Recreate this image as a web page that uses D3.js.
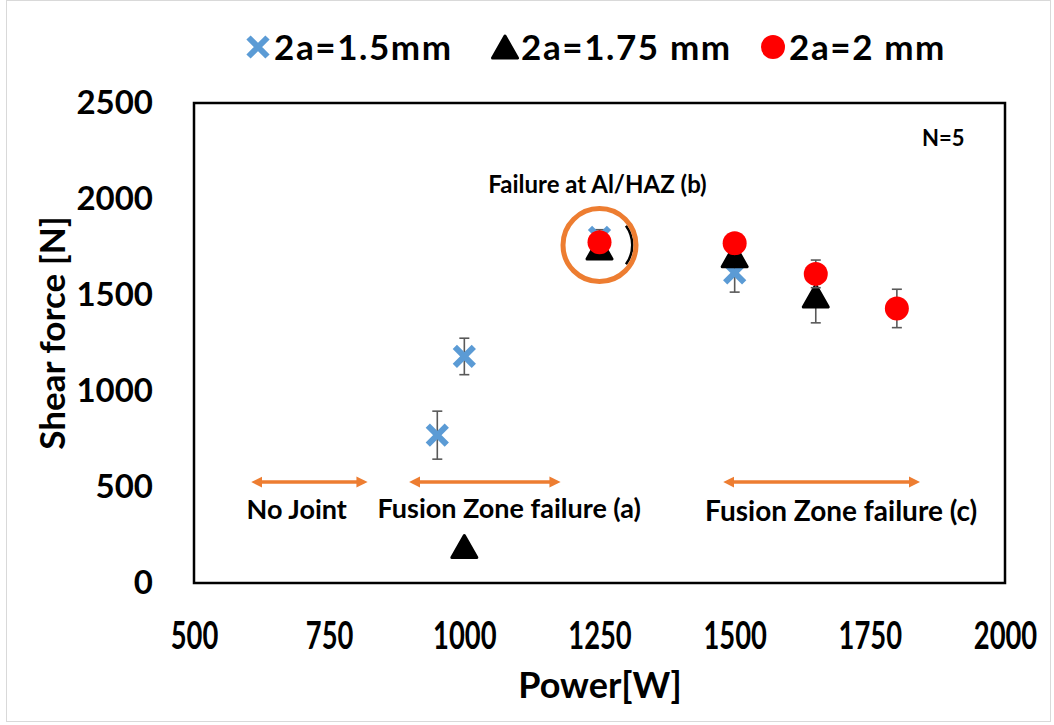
<!DOCTYPE html>
<html>
<head>
<meta charset="utf-8">
<script src="https://cdn.jsdelivr.net/npm/d3@7"></script>
<style>
  body { margin: 0; background: #fff; }
  text { font-family: Lato, "Open Sans", sans-serif; font-weight: bold; fill: #000; }
</style>
</head>
<body>
<div id="chart"></div>
<script>
// data
var series_names = ["2a=1.5mm", "2a=1.75 mm", "2a=2 mm"];
var power_15 = [950, 1000, 1250, 1500];
var force_15 = [770, 1180, 1800, 1615];
var err_15 = [125, 95, 40, 100];
var power_175 = [1000, 1250, 1500, 1650];
var force_175 = [190, 1745, 1705, 1495];
var err_175 = [20, 40, 40, 140];
var power_2 = [1250, 1500, 1650, 1800];
var force_2 = [1775, 1770, 1610, 1430];
var err_2 = [30, 30, 72, 100];
var x_ticks = [500, 750, 1000, 1250, 1500, 1750, 2000];
var y_ticks = [0, 500, 1000, 1500, 2000, 2500];
// failure-mode bands [from, to] in W and their labels
var band_labels = ["No Joint", "Fusion Zone failure (a)", "Fusion Zone failure (c)"];
var band_from = [607, 899, 1480];
var band_to = [820, 1177, 1842];

var width = 1054, height = 725;
var margin = {top: 103, right: 49, bottom: 142, left: 194};

var svg = d3.select("#chart").append("svg")
    .attr("width", width)
    .attr("height", height);

svg.append("defs").append("marker")
    .attr("id", "head")
    .attr("viewBox", "0 0 10 10")
    .attr("refX", 5).attr("refY", 5)
    .attr("markerWidth", 3.2).attr("markerHeight", 3.2)
    .attr("orient", "auto-start-reverse")
    .append("path")
        .attr("d", "M0,0 L10,5 L0,10 z")
        .attr("fill", "#ED7D31");

// outer chart border
svg.append("rect")
    .attr("x", 6.5).attr("y", 0.5)
    .attr("width", width - 10).attr("height", height - 4)
    .attr("fill", "none").attr("stroke", "#d9d9d9");

var x = d3.scaleLinear().domain([500, 2000]).range([margin.left, width - margin.right]);
var y = d3.scaleLinear().domain([0, 2500]).range([height - margin.bottom, margin.top]);

// plot frame
svg.append("rect")
    .attr("x", x(500)).attr("y", y(2500))
    .attr("width", x(2000) - x(500)).attr("height", y(0) - y(2500))
    .attr("fill", "none").attr("stroke", "#000").attr("stroke-width", 2.5);

// axes
var xAxis = svg.append("g")
    .attr("transform", "translate(0," + (y(0) + 32) + ")")
    .call(d3.axisBottom(x).tickValues(x_ticks).tickSize(0).tickFormat(d3.format("d")));
xAxis.select(".domain").remove();
xAxis.selectAll("text")
    .attr("dy", "0.71em")
    .attr("y", 7)
    .style("font-size", "38px")
    .style("font-family", "Lato, sans-serif")
    .attr("transform", "scale(0.72,1)");

var yAxis = svg.append("g")
    .attr("transform", "translate(" + (x(500) - 38) + ",0)")
    .call(d3.axisLeft(y).tickValues(y_ticks).tickSize(0).tickFormat(d3.format("d")));
yAxis.select(".domain").remove();
yAxis.selectAll("text")
    .style("font-size", "33px")
    .style("font-family", "Lato, sans-serif");

svg.append("text")
    .attr("x", 600).attr("y", 698)
    .attr("text-anchor", "middle")
    .style("font-size", "36px")
    .text("Power[W]");

svg.append("text")
    .attr("transform", "translate(65,333) rotate(-90)")
    .attr("text-anchor", "middle")
    .style("font-size", "35px")
    .text("Shear force [N]");

// annotations
svg.append("text")
    .attr("x", x(1925)).attr("y", y(2275))
    .attr("text-anchor", "end")
    .style("font-size", "22px")
    .text("N=5");

svg.append("text")
    .attr("x", x(1250) - 2).attr("y", y(2030))
    .attr("text-anchor", "middle")
    .style("font-size", "24px")
    .text("Failure at Al/HAZ (b)");

band_labels.forEach(function(lab, i) {
    svg.append("line")
        .attr("x1", x(band_from[i]) + 5).attr("x2", x(band_to[i]) - 5)
        .attr("y1", y(526)).attr("y2", y(526))
        .attr("stroke", "#ED7D31").attr("stroke-width", 3.5)
        .attr("marker-start", "url(#head)")
        .attr("marker-end", "url(#head)");
});
var label_x = [690, 1083, 1697];
var label_y = [335, 340, 325];
band_labels.forEach(function(lab, i) {
    svg.append("text")
        .attr("x", x(label_x[i])).attr("y", y(label_y[i]))
        .attr("text-anchor", "middle")
        .style("font-size", i == 2 ? "28px" : "27px")
        .text(lab);
});

// ring around the (b) points
var ring = {cx: x(1250), cy: y(1760)};
svg.append("path")
    .attr("d", d3.arc()({innerRadius: 31.5, outerRadius: 34, startAngle: Math.PI * 0.3, endAngle: Math.PI * 0.7}))
    .attr("transform", "translate(" + ring.cx + "," + ring.cy + ")")
    .attr("fill", "#000");

// error bars + markers
function error_bars(px, py, pe) {
    var g = svg.append("g").attr("stroke", "#595959").attr("stroke-width", 1.6);
    px.forEach(function(p, i) {
        var cx = x(p), y1 = y(py[i] - pe[i]), y2 = y(py[i] + pe[i]);
        g.append("line").attr("x1", cx).attr("x2", cx).attr("y1", y1).attr("y2", y2);
        g.append("line").attr("x1", cx - 5).attr("x2", cx + 5).attr("y1", y1).attr("y2", y1);
        g.append("line").attr("x1", cx - 5).attr("x2", cx + 5).attr("y1", y2).attr("y2", y2);
    });
}

function cross(g, cx, cy, s) {
    g.append("path")
        .attr("d", "M" + (cx - s) + "," + (cy - s) + "L" + (cx + s) + "," + (cy + s) +
                   "M" + (cx - s) + "," + (cy + s) + "L" + (cx + s) + "," + (cy - s))
        .attr("stroke", "#5B9BD5").attr("stroke-width", 6).attr("fill", "none");
}
function triangle(g, cx, cy) {
    g.append("path")
        .attr("d", "M" + cx + "," + (cy - 11) + "L" + (cx + 12.5) + "," + (cy + 11) + "L" + (cx - 12.5) + "," + (cy + 11) + "Z")
        .attr("fill", "#000").attr("stroke", "#000").attr("stroke-width", 3)
        .attr("stroke-linejoin", "round");
}
function dot(g, cx, cy) {
    g.append("circle").attr("cx", cx).attr("cy", cy).attr("r", 12).attr("fill", "#FF0000");
}

error_bars(power_15, force_15, err_15);
var g1 = svg.append("g");
power_15.forEach(function(p, i) { cross(g1, x(p), y(force_15[i]), 9.5); });

error_bars(power_175, force_175, err_175);
var g2 = svg.append("g");
power_175.forEach(function(p, i) { triangle(g2, x(p), y(force_175[i])); });

error_bars(power_2, force_2, err_2);
var g3 = svg.append("g");
power_2.forEach(function(p, i) { dot(g3, x(p), y(force_2[i])); });

svg.append("circle")
    .attr("cx", ring.cx).attr("cy", ring.cy).attr("r", 36.5)
    .attr("fill", "none").attr("stroke", "#ED7D31").attr("stroke-width", 5);

// legend
var legend = svg.append("g");
var leg_x = [258, 505, 773];
cross(legend, leg_x[0], 47, 9.5);
triangle(legend, leg_x[1], 47);
dot(legend, leg_x[2], 47);
series_names.forEach(function(name, i) {
    legend.append("text")
        .attr("x", leg_x[i] + 16).attr("y", 60)
        .style("font-size", "35px")
        .style("letter-spacing", "1.6px")
        .text(name);
});
</script>
</body>
</html>
